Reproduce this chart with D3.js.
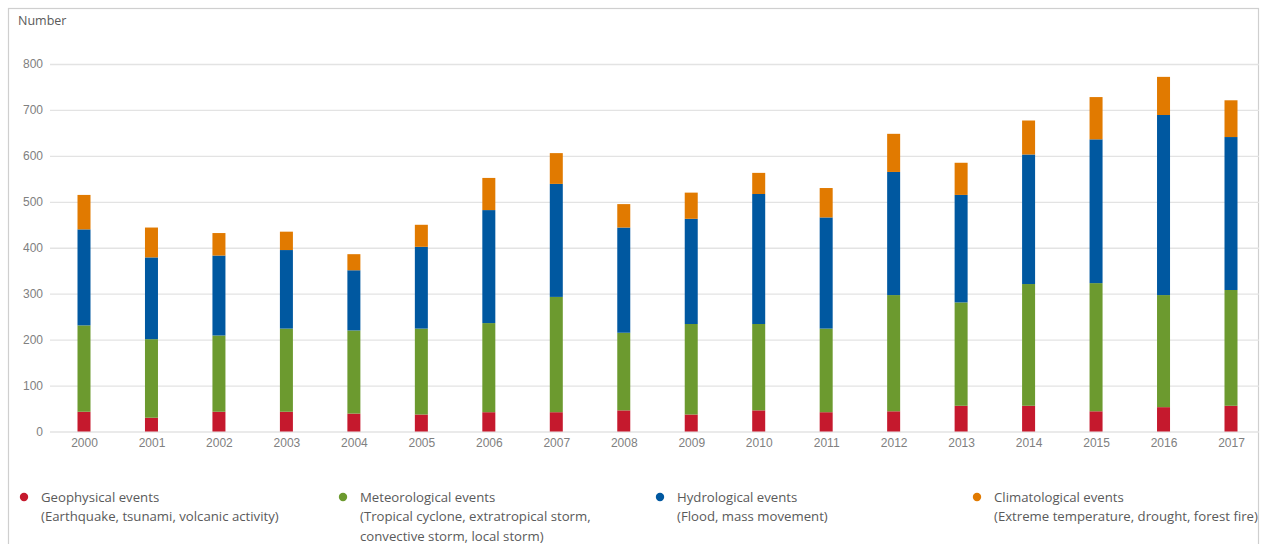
<!DOCTYPE html>
<html>
<head>
<meta charset="utf-8">
<script src="https://cdn.jsdelivr.net/npm/d3@7"></script>
<style>
  html, body { margin: 0; padding: 0; background: #fff; }
  svg { display: block; font-family: "Open Sans", "Liberation Sans", Arial, sans-serif; }
</style>
</head>
<body>
<svg id="chart" width="1264" height="544"></svg>
<script>
// Natural catastrophes per year, by event type
const years = ["2000","2001","2002","2003","2004","2005","2006","2007","2008",
               "2009","2010","2011","2012","2013","2014","2015","2016","2017"];
const geophysical    = [43, 30, 43, 43, 39, 37, 42, 42, 46, 37, 46, 42, 44, 56, 56, 44, 53, 56];
const meteorological = [188, 171, 166, 181, 181, 187, 194, 251, 169, 197, 188, 182, 253, 225, 265, 279, 244, 252];
const hydrological   = [209, 178, 174, 171, 131, 178, 246, 246, 229, 229, 283, 242, 268, 234, 282, 313, 392, 333];
const climatological = [75, 65, 49, 40, 35, 48, 70, 67, 51, 57, 46, 64, 83, 70, 74, 92, 83, 80];
const yTicks = [0, 100, 200, 300, 400, 500, 600, 700, 800];

const seriesKeys = ["geo", "met", "hyd", "cli"];
const colors = { geo: "#c5192d", met: "#6c9a2f", hyd: "#0058a0", cli: "#e17a00" };
const legendItems = [
  { key: "geo", lines: ["Geophysical events", "(Earthquake, tsunami, volcanic activity)"] },
  { key: "met", lines: ["Meteorological events", "(Tropical cyclone, extratropical storm,", "convective storm, local storm)"] },
  { key: "hyd", lines: ["Hydrological events", "(Flood, mass movement)"] },
  { key: "cli", lines: ["Climatological events", "(Extreme temperature, drought, forest fire)"] }
];

const rows = years.map((y, i) => ({
  year: y, geo: geophysical[i], met: meteorological[i], hyd: hydrological[i], cli: climatological[i]
}));

const svg = d3.select("#chart");

// outer frame
svg.append("rect")
  .attr("x", 8.5).attr("y", 8.5).attr("width", 1250).attr("height", 560)
  .attr("fill", "none").attr("stroke", "#cfcfcf").attr("stroke-width", 1.2);

const x = d3.scalePoint().domain(years).range([84, 1231]);
const y = d3.scaleLinear().domain([0, 800]).range([431.5, 64]);
const barW = 13;

// horizontal gridlines and value labels
const yAxis = d3.axisLeft(y).tickValues(yTicks).tickSize(-(1259 - 50)).tickPadding(7).tickFormat(d3.format("d"));
const gy = svg.append("g").attr("transform", "translate(50,0)").call(yAxis);
gy.select(".domain").remove();
gy.selectAll(".tick line").attr("stroke", "#e3e3e3").attr("stroke-width", 1.3);
gy.selectAll(".tick text").attr("fill", "#808080").attr("font-size", 12);

svg.append("text")
  .attr("x", 18).attr("y", 25)
  .attr("fill", "#5a5a5a").attr("font-size", 12.5)
  .text("Number");

// stacked bars
const stacked = d3.stack().keys(seriesKeys)(rows);
svg.append("g").selectAll("g")
  .data(stacked).join("g")
  .attr("fill", s => colors[s.key])
  .selectAll("rect")
  .data(s => s).join("rect")
  .attr("x", d => x(d.data.year) - barW / 2)
  .attr("width", barW)
  .attr("y", d => y(d[1]))
  .attr("height", d => y(d[0]) - y(d[1]));

// year labels
const xAxis = d3.axisBottom(x).tickSize(0).tickPadding(7);
const gx = svg.append("g").attr("transform", "translate(0,431.5)").call(xAxis);
gx.select(".domain").remove();
gx.selectAll(".tick text").attr("fill", "#808080").attr("font-size", 12);

// legend
const legendX = [24, 343, 660, 977];
const lg = svg.append("g").selectAll("g")
  .data(legendItems).join("g")
  .attr("transform", (d, i) => `translate(${legendX[i]},497)`);
lg.append("circle").attr("r", 4.2).attr("fill", d => colors[d.key]);
lg.each(function(d) {
  d3.select(this).selectAll("text")
    .data(d.lines).join("text")
    .attr("x", 17)
    .attr("y", (t, j) => 4.5 + j * 19.5)
    .attr("fill", "#5a5a5a").attr("font-size", 13.2)
    .text(t => t);
});
</script>
</body>
</html>
